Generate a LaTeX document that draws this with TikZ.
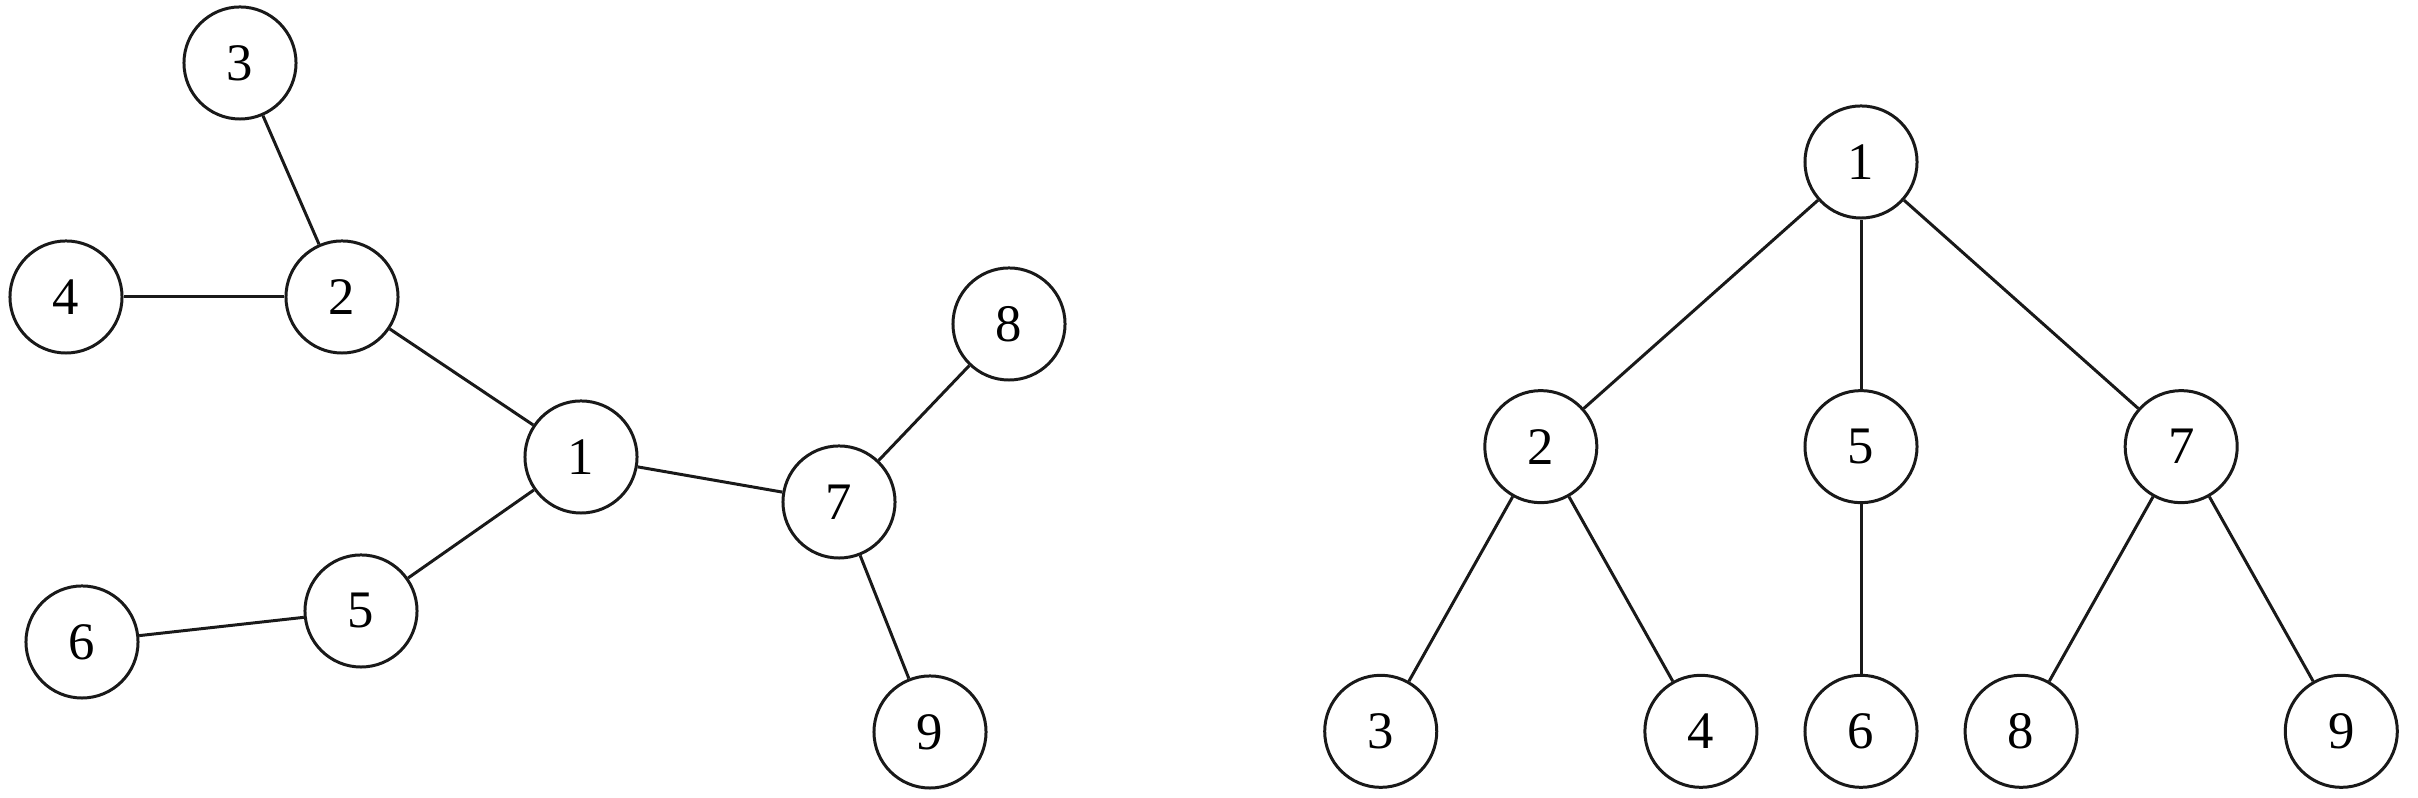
\documentclass[tikz,border=0pt]{standalone}
\usepackage{fontspec}
\setmainfont{Liberation Serif}
\usepackage{tikz}
\usetikzlibrary{positioning}

\begin{document}
\begin{tikzpicture}[
  x=0.01cm, y=0.01cm,
  node distance=2.845cm and 3.2cm, on grid,
  vertex/.style={circle, draw=black!90, line width=0.85pt, minimum size=1.12cm,
                 inner sep=0pt, font=\fontsize{15}{18}\selectfont},
  edge/.style={line width=0.85pt, color=black!90}
]
\useasboundingbox (0,0) rectangle (2418,798);

% free tree
\node[vertex] (a1) at (581,341) {1};
\node[vertex] (a2) at (342,501) {2};
\node[vertex] (a3) at (240,735) {3};
\node[vertex] (a4) at (66,501) {4};
\node[vertex] (a5) at (361,187) {5};
\node[vertex] (a6) at (82,156) {6};
\node[vertex] (a7) at (839,296) {7};
\node[vertex] (a8) at (1009,474) {8};
\node[vertex] (a9) at (930,66) {9};

\draw[edge] (a1) -- (a2);
\draw[edge] (a2) -- (a3);
\draw[edge] (a2) -- (a4);
\draw[edge] (a1) -- (a5);
\draw[edge] (a5) -- (a6);
\draw[edge] (a1) -- (a7);
\draw[edge] (a7) -- (a8);
\draw[edge] (a7) -- (a9);

% rooted tree
\node[vertex] (b1) at (1861,636) {1};
\node[vertex, below=of b1] (b5) {5};
\node[vertex, left=of b5] (b2) {2};
\node[vertex, right=of b5] (b7) {7};
\node[vertex, below=of b5] (b6) {6};
\node[vertex, below left=2.845cm and 1.6cm of b2] (b3) {3};
\node[vertex, below right=2.845cm and 1.6cm of b2] (b4) {4};
\node[vertex, below left=2.845cm and 1.6cm of b7] (b8) {8};
\node[vertex, below right=2.845cm and 1.6cm of b7] (b9) {9};

\draw[edge] (b1) -- (b2);
\draw[edge] (b1) -- (b5);
\draw[edge] (b1) -- (b7);
\draw[edge] (b2) -- (b3);
\draw[edge] (b2) -- (b4);
\draw[edge] (b5) -- (b6);
\draw[edge] (b7) -- (b8);
\draw[edge] (b7) -- (b9);

\end{tikzpicture}
\end{document}
